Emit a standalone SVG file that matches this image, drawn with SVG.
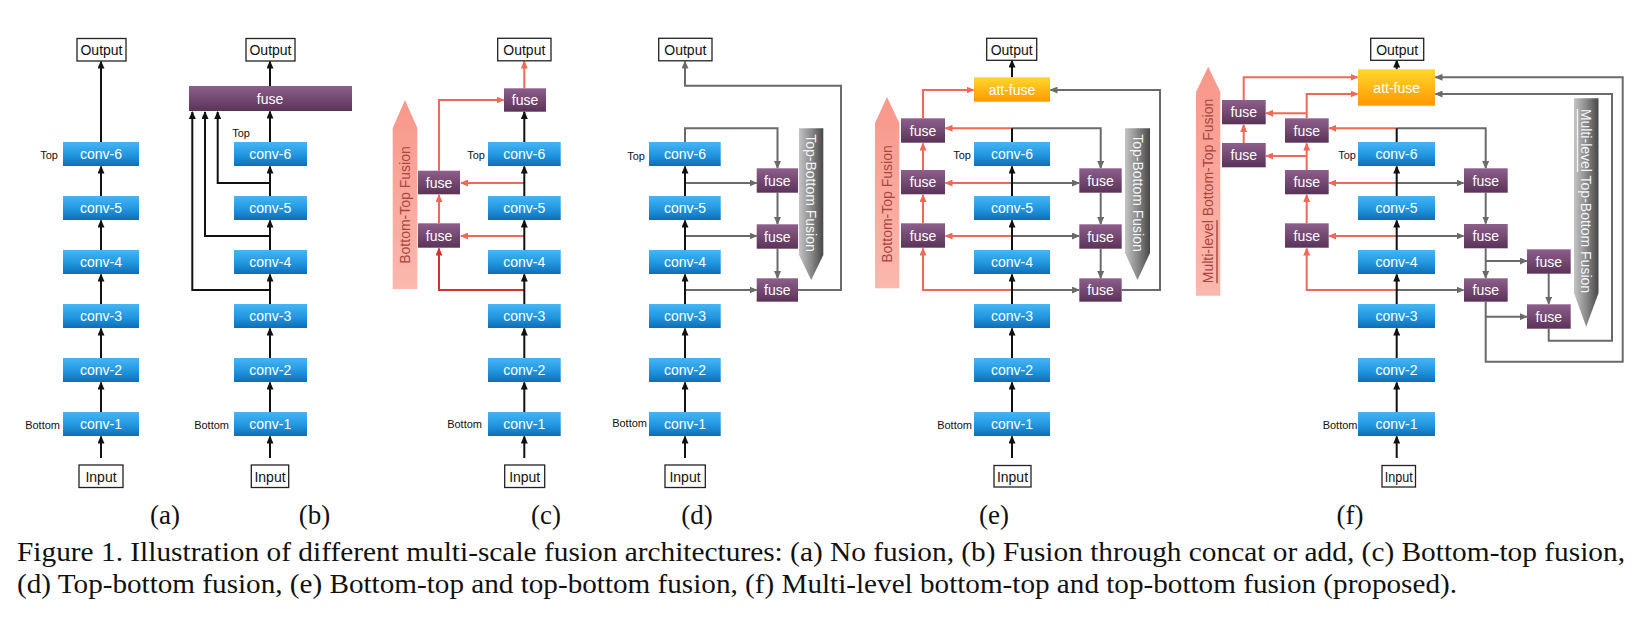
<svg xmlns="http://www.w3.org/2000/svg" width="1642" height="620" viewBox="0 0 1642 620">
<defs>
<linearGradient id="gBlue" x1="0" y1="0" x2="0" y2="1"><stop offset="0" stop-color="#46b5f3"/><stop offset="0.55" stop-color="#2196e0"/><stop offset="1" stop-color="#0f6db5"/></linearGradient>
<linearGradient id="gPurple" x1="0" y1="0" x2="0" y2="1"><stop offset="0" stop-color="#8e5f8c"/><stop offset="1" stop-color="#5a3358"/></linearGradient>
<linearGradient id="gOrange" x1="0" y1="0" x2="0" y2="1"><stop offset="0" stop-color="#ffd82c"/><stop offset="1" stop-color="#ff9800"/></linearGradient>
<linearGradient id="gPink" x1="0" y1="0" x2="0" y2="1"><stop offset="0" stop-color="#f8978a"/><stop offset="1" stop-color="#fbb8ae"/></linearGradient>
<linearGradient id="gGray" x1="0" y1="0" x2="1" y2="0"><stop offset="0" stop-color="#c4c4c4"/><stop offset="0.5" stop-color="#8a8a8a"/><stop offset="1" stop-color="#474747"/></linearGradient>
<marker id="aK" viewBox="0 0 8 7" refX="7" refY="3.5" markerWidth="8" markerHeight="7" markerUnits="userSpaceOnUse" orient="auto"><path d="M0,0 L8,3.5 L0,7 z" fill="#111"/></marker>
<marker id="aR" viewBox="0 0 8 7" refX="7" refY="3.5" markerWidth="8" markerHeight="7" markerUnits="userSpaceOnUse" orient="auto"><path d="M0,0 L8,3.5 L0,7 z" fill="#f26858"/></marker>
<marker id="aD" viewBox="0 0 8 7" refX="7" refY="3.5" markerWidth="8" markerHeight="7" markerUnits="userSpaceOnUse" orient="auto"><path d="M0,0 L8,3.5 L0,7 z" fill="#d9302a"/></marker>
<marker id="aG" viewBox="0 0 8 7" refX="7" refY="3.5" markerWidth="8" markerHeight="7" markerUnits="userSpaceOnUse" orient="auto"><path d="M0,0 L8,3.5 L0,7 z" fill="#6a6a6a"/></marker>
</defs>
<style>
.conv{fill:url(#gBlue)}
.fuse{fill:url(#gPurple)}
.att{fill:url(#gOrange)}
.io{fill:#fff;stroke:#222;stroke-width:1.3}
.t{font-family:"Liberation Sans",Arial,sans-serif;font-size:14px;text-anchor:middle;dominant-baseline:central}
.w{fill:#fff}
.k{fill:#111}
.lb{font-family:"Liberation Sans",Arial,sans-serif;font-size:11px;fill:#111;text-anchor:end;dominant-baseline:central}
.big{font-family:"Liberation Sans",Arial,sans-serif;font-size:14px;text-anchor:middle;dominant-baseline:central}
.pink{fill:url(#gPink)}
.gray{fill:url(#gGray)}
.cap{font-family:"Liberation Serif","Times New Roman",serif;font-size:27px;fill:#111}
.blk{fill:none;stroke:#111;stroke-width:2;marker-end:url(#aK)}
.bln{fill:none;stroke:#111;stroke-width:2}
.red{fill:none;stroke:#f26858;stroke-width:2;marker-end:url(#aR)}
.drd{fill:none;stroke:#d9302a;stroke-width:2;marker-end:url(#aD)}
.gry{fill:none;stroke:#6a6a6a;stroke-width:2;marker-end:url(#aG)}
</style>
<rect width="1642" height="620" fill="#fff"/>

<!-- big fusion arrows -->
<g id="bt-c"><polygon class="pink" points="405,100 417.3,128 417.3,289 392.7,289 392.7,128"/><text class="big" fill="#a9473d" transform="translate(405,205) rotate(-90)">Bottom-Top Fusion</text></g>
<g id="tb-d"><polygon class="gray" points="799,128.3 823.3,128.3 823.3,255 811.2,280 799,255"/><text class="big" fill="#f4f4f4" transform="translate(811,193) rotate(90)">Top-Bottom Fusion</text></g>
<g id="bt-e"><polygon class="pink" points="887,97 899.3,123 899.3,288.3 875,288.3 875,123"/><text class="big" fill="#a9473d" transform="translate(887.3,204) rotate(-90)">Bottom-Top Fusion</text></g>
<g id="tb-e"><polygon class="gray" points="1125,128.3 1150,128.3 1150,253 1137.5,280 1125,253"/><text class="big" fill="#f4f4f4" transform="translate(1137.5,193) rotate(90)">Top-Bottom Fusion</text></g>
<g id="bt-f"><polygon class="pink" points="1208.2,66.7 1220.3,92 1220.3,295.7 1196,295.7 1196,92"/><text class="big" fill="#a9473d" transform="translate(1208.3,191) rotate(-90)"><tspan text-decoration="underline">Multi-level</tspan> Bottom-Top Fusion</text></g>
<g id="tb-f"><polygon class="gray" points="1574,98.3 1598.5,98.3 1598.5,293 1586.2,326.7 1574,293"/><text class="big" fill="#f4f4f4" transform="translate(1586.2,201) rotate(90)"><tspan text-decoration="underline">Multi-level</tspan> Top-Bottom Fusion</text></g>

<!-- connectors -->
<g id="connectors">
<path class="blk" d="M270 183 H217.7 V112"/>
<path class="blk" d="M270 236 H205 V112"/>
<path class="blk" d="M270 290 H192.3 V112"/>
<path class="red" d="M524.3 183 H461"/>
<path class="red" d="M524.3 236 H461"/>
<path class="drd" d="M524.3 290 H439 V248.5"/>
<path class="red" d="M439 223.3 V195"/>
<path class="red" d="M439 170.7 V100 H503.5"/>
<path class="red" d="M524.3 88.3 V61.5"/>
<path class="gry" d="M685 142 V128.3 H777.5 V168"/>
<path class="gry" d="M685 183 H756.5"/>
<path class="gry" d="M685 236 H756.5"/>
<path class="gry" d="M685 290 H756.5"/>
<path class="gry" d="M777.5 192.7 V224"/>
<path class="gry" d="M777.5 248.7 V278"/>
<path class="gry" d="M798 290 H841 V85.7 H685 V61.5"/>
<path class="red" d="M1012 128.3 H945.5"/>
<path class="gry" d="M1012 128.3 H1100.7 V168"/>
<path class="red" d="M1012 183 H945.5"/>
<path class="gry" d="M1012 183 H1079"/>
<path class="red" d="M1012 236 H945.5"/>
<path class="gry" d="M1012 236 H1079"/>
<path class="red" d="M1012 290 H923 V248.5"/>
<path class="gry" d="M1012 290 H1079"/>
<path class="red" d="M923 223.3 V195"/>
<path class="red" d="M923 170 V143.5"/>
<path class="red" d="M923 118.3 V90 H973.5"/>
<path class="gry" d="M1100.7 192.7 V224"/>
<path class="gry" d="M1100.7 248.7 V278"/>
<path class="gry" d="M1121.7 290 H1160 V90 H1050.5"/>
<path class="red" d="M1396.7 128.3 H1329.2"/>
<path class="gry" d="M1396.7 128.3 H1485.7 V168"/>
<path class="red" d="M1396.7 183 H1329.2"/>
<path class="gry" d="M1396.7 183 H1463.5"/>
<path class="red" d="M1396.7 236 H1329.2"/>
<path class="gry" d="M1396.7 236 H1463.5"/>
<path class="red" d="M1396.7 290 H1306.7 V248.5"/>
<path class="gry" d="M1396.7 290 H1463.5"/>
<path class="red" d="M1306.7 223.3 V195"/>
<path class="red" d="M1306.7 170 V143.5"/>
<path class="red" d="M1306.7 118.3 V94 H1357.5"/>
<path class="red" d="M1306.7 113.3 H1266.2"/>
<path class="red" d="M1306.7 156 H1266.2"/>
<path class="red" d="M1243.7 143 V125"/>
<path class="red" d="M1243.7 100 V77.3 H1357.5"/>
<path class="gry" d="M1485.7 192.7 V223.5"/>
<path class="gry" d="M1485.7 248.3 V278"/>
<path class="gry" d="M1485.7 261 H1526.8"/>
<path class="gry" d="M1485.7 316.7 H1526.8"/>
<path class="gry" d="M1485.7 301.7 V361.7 H1622.7 V77.3 H1435.5"/>
<path class="gry" d="M1548.7 273.3 V303.8"/>
<path class="gry" d="M1548.7 328.7 V340.7 H1612 V94 H1435.5"/>
<path class="blk" d="M101 458 V436.5"/><path class="blk" d="M101 412 V382.5"/><path class="blk" d="M101 358 V328.5"/><path class="blk" d="M101 304 V274.5"/><path class="blk" d="M101 250 V220.5"/><path class="blk" d="M101 196 V166.5"/><path class="blk" d="M101 142 V61.5"/>
<path class="blk" d="M270 458 V436.5"/><path class="blk" d="M270 412 V382.5"/><path class="blk" d="M270 358 V328.5"/><path class="blk" d="M270 304 V274.5"/><path class="blk" d="M270 250 V220.5"/><path class="blk" d="M270 196 V166.5"/><path class="blk" d="M270 142 V111.5"/><path class="blk" d="M270 86 V61.5"/>
<path class="blk" d="M524.3 458 V436.5"/><path class="blk" d="M524.3 412 V382.5"/><path class="blk" d="M524.3 358 V328.5"/><path class="blk" d="M524.3 304 V274.5"/><path class="blk" d="M524.3 250 V220.5"/><path class="blk" d="M524.3 196 V166.5"/><path class="blk" d="M524.3 142 V112"/>
<path class="blk" d="M685 458 V436.5"/><path class="blk" d="M685 412 V382.5"/><path class="blk" d="M685 358 V328.5"/><path class="blk" d="M685 304 V274.5"/><path class="blk" d="M685 250 V220.5"/><path class="blk" d="M685 196 V166.5"/>
<path class="blk" d="M1012 458 V436.5"/><path class="blk" d="M1012 412 V382.5"/><path class="blk" d="M1012 358 V328.5"/><path class="blk" d="M1012 304 V274.5"/><path class="blk" d="M1012 250 V220.5"/><path class="blk" d="M1012 196 V166.5"/><path class="bln" d="M1012 142 V128.3"/><path class="blk" d="M1012 77.3 V60.5"/>
<path class="blk" d="M1396.7 458 V436.5"/><path class="blk" d="M1396.7 412 V382.5"/><path class="blk" d="M1396.7 358 V328.5"/><path class="blk" d="M1396.7 304 V274.5"/><path class="blk" d="M1396.7 250 V220.5"/><path class="blk" d="M1396.7 196 V166.5"/><path class="bln" d="M1396.7 142 V128.3"/><path class="blk" d="M1396.7 69.3 V60.5"/>
</g>

<!-- (a) -->
<g id="a-output"><rect class="io" x="77" y="38.5" width="49" height="22.5"/><text class="t k" x="101.5" y="50">Output</text></g>
<g id="a-conv6"><rect class="conv" x="63" y="142" width="76" height="24"/><text class="t w" x="101" y="154">conv-6</text></g>
<g id="a-conv5"><rect class="conv" x="63" y="196" width="76" height="24"/><text class="t w" x="101" y="208">conv-5</text></g>
<g id="a-conv4"><rect class="conv" x="63" y="250" width="76" height="24"/><text class="t w" x="101" y="262">conv-4</text></g>
<g id="a-conv3"><rect class="conv" x="63" y="304" width="76" height="24"/><text class="t w" x="101" y="316">conv-3</text></g>
<g id="a-conv2"><rect class="conv" x="63" y="358" width="76" height="24"/><text class="t w" x="101" y="370">conv-2</text></g>
<g id="a-conv1"><rect class="conv" x="63" y="412" width="76" height="24"/><text class="t w" x="101" y="424">conv-1</text></g>
<g id="a-input"><rect class="io" x="79" y="465" width="44" height="22.5"/><text class="t k" x="101" y="476.5">Input</text></g>
<text class="lb" x="58" y="155">Top</text>
<text class="lb" x="60" y="425">Bottom</text>

<!-- (b) -->
<g id="b-output"><rect class="io" x="246" y="38.5" width="49" height="22.5"/><text class="t k" x="270.5" y="50">Output</text></g>
<g id="b-fuse"><rect class="fuse" x="189" y="86" width="163" height="25"/><text class="t w" x="270" y="98.5">fuse</text></g>
<g id="b-conv6"><rect class="conv" x="234" y="142" width="73" height="24"/><text class="t w" x="270.3" y="154">conv-6</text></g>
<g id="b-conv5"><rect class="conv" x="234" y="196" width="73" height="24"/><text class="t w" x="270.3" y="208">conv-5</text></g>
<g id="b-conv4"><rect class="conv" x="234" y="250" width="73" height="24"/><text class="t w" x="270.3" y="262">conv-4</text></g>
<g id="b-conv3"><rect class="conv" x="234" y="304" width="73" height="24"/><text class="t w" x="270.3" y="316">conv-3</text></g>
<g id="b-conv2"><rect class="conv" x="234" y="358" width="73" height="24"/><text class="t w" x="270.3" y="370">conv-2</text></g>
<g id="b-conv1"><rect class="conv" x="234" y="412" width="73" height="24"/><text class="t w" x="270.3" y="424">conv-1</text></g>
<g id="b-input"><rect class="io" x="251.3" y="465" width="37.4" height="22.5"/><text class="t k" x="270" y="476.5">Input</text></g>
<text class="lb" x="250" y="133">Top</text>
<text class="lb" x="229" y="425">Bottom</text>

<!-- (c) -->
<g id="c-output"><rect class="io" x="497.7" y="38.3" width="53.3" height="22.5"/><text class="t k" x="524.3" y="49.8">Output</text></g>
<g id="c-fuse-top"><rect class="fuse" x="504" y="88.3" width="42" height="23.4"/><text class="t w" x="525" y="100">fuse</text></g>
<g id="c-fuse-2"><rect class="fuse" x="418" y="170.7" width="42" height="23.6"/><text class="t w" x="439" y="182.5">fuse</text></g>
<g id="c-fuse-1"><rect class="fuse" x="418" y="223.3" width="42" height="24.4"/><text class="t w" x="439" y="235.5">fuse</text></g>
<g id="c-conv6"><rect class="conv" x="488" y="142" width="72.7" height="24"/><text class="t w" x="524.3" y="154">conv-6</text></g>
<g id="c-conv5"><rect class="conv" x="488" y="196" width="72.7" height="24"/><text class="t w" x="524.3" y="208">conv-5</text></g>
<g id="c-conv4"><rect class="conv" x="488" y="250" width="72.7" height="24"/><text class="t w" x="524.3" y="262">conv-4</text></g>
<g id="c-conv3"><rect class="conv" x="488" y="304" width="72.7" height="24"/><text class="t w" x="524.3" y="316">conv-3</text></g>
<g id="c-conv2"><rect class="conv" x="488" y="358" width="72.7" height="24"/><text class="t w" x="524.3" y="370">conv-2</text></g>
<g id="c-conv1"><rect class="conv" x="488" y="412" width="72.7" height="24"/><text class="t w" x="524.3" y="424">conv-1</text></g>
<g id="c-input"><rect class="io" x="504.7" y="465" width="40" height="22.5"/><text class="t k" x="524.7" y="476.5">Input</text></g>
<text class="lb" x="485" y="155">Top</text>
<text class="lb" x="482" y="424">Bottom</text>

<!-- (d) -->
<g id="d-output"><rect class="io" x="658.7" y="38.3" width="53.3" height="22.5"/><text class="t k" x="685.3" y="49.8">Output</text></g>
<g id="d-fuse-3"><rect class="fuse" x="756.7" y="168.3" width="41.3" height="24.4"/><text class="t w" x="777.3" y="180.5">fuse</text></g>
<g id="d-fuse-2"><rect class="fuse" x="756.7" y="224.3" width="41.3" height="24.4"/><text class="t w" x="777.3" y="236.5">fuse</text></g>
<g id="d-fuse-1"><rect class="fuse" x="756.7" y="278.3" width="41.3" height="23.4"/><text class="t w" x="777.3" y="290">fuse</text></g>
<g id="d-conv6"><rect class="conv" x="649" y="142" width="71.7" height="24"/><text class="t w" x="685" y="154">conv-6</text></g>
<g id="d-conv5"><rect class="conv" x="649" y="196" width="71.7" height="24"/><text class="t w" x="685" y="208">conv-5</text></g>
<g id="d-conv4"><rect class="conv" x="649" y="250" width="71.7" height="24"/><text class="t w" x="685" y="262">conv-4</text></g>
<g id="d-conv3"><rect class="conv" x="649" y="304" width="71.7" height="24"/><text class="t w" x="685" y="316">conv-3</text></g>
<g id="d-conv2"><rect class="conv" x="649" y="358" width="71.7" height="24"/><text class="t w" x="685" y="370">conv-2</text></g>
<g id="d-conv1"><rect class="conv" x="649" y="412" width="71.7" height="24"/><text class="t w" x="685" y="424">conv-1</text></g>
<g id="d-input"><rect class="io" x="665" y="465" width="40.3" height="22.5"/><text class="t k" x="685" y="476.5">Input</text></g>
<text class="lb" x="645" y="156">Top</text>
<text class="lb" x="647" y="423">Bottom</text>

<!-- (e) -->
<g id="e-output"><rect class="io" x="986.7" y="38.3" width="50" height="22"/><text class="t k" x="1011.7" y="49.5">Output</text></g>
<g id="e-attfuse"><rect class="att" x="974" y="77.3" width="76" height="24.4"/><text class="t w" x="1012" y="89.5">att-fuse</text></g>
<g id="e-bt-fuse-3"><rect class="fuse" x="901" y="118.3" width="44" height="24.4"/><text class="t w" x="923" y="130.5">fuse</text></g>
<g id="e-bt-fuse-2"><rect class="fuse" x="901" y="170" width="44" height="24.3"/><text class="t w" x="923" y="182.2">fuse</text></g>
<g id="e-bt-fuse-1"><rect class="fuse" x="901" y="223.3" width="44" height="24.4"/><text class="t w" x="923" y="235.5">fuse</text></g>
<g id="e-tb-fuse-1"><rect class="fuse" x="1079.3" y="168.3" width="42.4" height="24.4"/><text class="t w" x="1100.5" y="180.5">fuse</text></g>
<g id="e-tb-fuse-2"><rect class="fuse" x="1079.3" y="224.3" width="42.4" height="24.4"/><text class="t w" x="1100.5" y="236.5">fuse</text></g>
<g id="e-tb-fuse-3"><rect class="fuse" x="1079.3" y="278.3" width="42.4" height="23.4"/><text class="t w" x="1100.5" y="290">fuse</text></g>
<g id="e-conv6"><rect class="conv" x="974" y="142" width="76" height="24"/><text class="t w" x="1012" y="154">conv-6</text></g>
<g id="e-conv5"><rect class="conv" x="974" y="196" width="76" height="24"/><text class="t w" x="1012" y="208">conv-5</text></g>
<g id="e-conv4"><rect class="conv" x="974" y="250" width="76" height="24"/><text class="t w" x="1012" y="262">conv-4</text></g>
<g id="e-conv3"><rect class="conv" x="974" y="304" width="76" height="24"/><text class="t w" x="1012" y="316">conv-3</text></g>
<g id="e-conv2"><rect class="conv" x="974" y="358" width="76" height="24"/><text class="t w" x="1012" y="370">conv-2</text></g>
<g id="e-conv1"><rect class="conv" x="974" y="412" width="76" height="24"/><text class="t w" x="1012" y="424">conv-1</text></g>
<g id="e-input"><rect class="io" x="994" y="465.5" width="37" height="21.5"/><text class="t k" x="1012.5" y="476.5" textLength="31" lengthAdjust="spacingAndGlyphs">Input</text></g>
<text class="lb" x="971" y="155">Top</text>
<text class="lb" x="972" y="425">Bottom</text>

<!-- (f) -->
<g id="f-output"><rect class="io" x="1370.7" y="38.3" width="53" height="22"/><text class="t k" x="1397.2" y="49.5">Output</text></g>
<g id="f-attfuse"><rect class="att" x="1358" y="69.3" width="77" height="36.4"/><text class="t w" x="1396.7" y="87.5">att-fuse</text></g>
<g id="f-bt2-fuse-2"><rect class="fuse" x="1222" y="100" width="43.7" height="24.3"/><text class="t w" x="1243.8" y="112.2">fuse</text></g>
<g id="f-bt2-fuse-1"><rect class="fuse" x="1222" y="143" width="43.7" height="24.3"/><text class="t w" x="1243.8" y="155.2">fuse</text></g>
<g id="f-bt-fuse-3"><rect class="fuse" x="1285" y="118.3" width="43.7" height="24.4"/><text class="t w" x="1306.8" y="130.5">fuse</text></g>
<g id="f-bt-fuse-2"><rect class="fuse" x="1285" y="170" width="43.7" height="24.3"/><text class="t w" x="1306.8" y="182.2">fuse</text></g>
<g id="f-bt-fuse-1"><rect class="fuse" x="1285" y="223.3" width="43.7" height="24.4"/><text class="t w" x="1306.8" y="235.5">fuse</text></g>
<g id="f-tb-fuse-1"><rect class="fuse" x="1464" y="168.3" width="43.7" height="24.4"/><text class="t w" x="1485.8" y="180.5">fuse</text></g>
<g id="f-tb-fuse-2"><rect class="fuse" x="1464" y="224" width="43.7" height="24.3"/><text class="t w" x="1485.8" y="236.2">fuse</text></g>
<g id="f-tb-fuse-3"><rect class="fuse" x="1464" y="278.3" width="43.7" height="23.4"/><text class="t w" x="1485.8" y="290">fuse</text></g>
<g id="f-tb2-fuse-1"><rect class="fuse" x="1527" y="249.3" width="43.7" height="24.4"/><text class="t w" x="1548.8" y="261.5">fuse</text></g>
<g id="f-tb2-fuse-2"><rect class="fuse" x="1527" y="304.3" width="43.7" height="24.4"/><text class="t w" x="1548.8" y="316.5">fuse</text></g>
<g id="f-conv6"><rect class="conv" x="1358" y="142" width="77" height="24"/><text class="t w" x="1396.5" y="154">conv-6</text></g>
<g id="f-conv5"><rect class="conv" x="1358" y="196" width="77" height="24"/><text class="t w" x="1396.5" y="208">conv-5</text></g>
<g id="f-conv4"><rect class="conv" x="1358" y="250" width="77" height="24"/><text class="t w" x="1396.5" y="262">conv-4</text></g>
<g id="f-conv3"><rect class="conv" x="1358" y="304" width="77" height="24"/><text class="t w" x="1396.5" y="316">conv-3</text></g>
<g id="f-conv2"><rect class="conv" x="1358" y="358" width="77" height="24"/><text class="t w" x="1396.5" y="370">conv-2</text></g>
<g id="f-conv1"><rect class="conv" x="1358" y="412" width="77" height="24"/><text class="t w" x="1396.5" y="424">conv-1</text></g>
<g id="f-input"><rect class="io" x="1382" y="465.5" width="33.5" height="21.5"/><text class="t k" x="1398.7" y="476.5" textLength="28" lengthAdjust="spacingAndGlyphs">Input</text></g>
<text class="lb" x="1356" y="154.5">Top</text>
<text class="lb" x="1357.5" y="425">Bottom</text>

<!-- sub-figure labels -->
<g class="cap" text-anchor="middle">
<text x="165" y="524">(a)</text>
<text x="314.5" y="524">(b)</text>
<text x="546" y="524">(c)</text>
<text x="697" y="524">(d)</text>
<text x="994" y="524">(e)</text>
<text x="1350" y="524">(f)</text>
</g>
<text class="cap" x="17" y="561" textLength="1608" lengthAdjust="spacingAndGlyphs">Figure 1. Illustration of different multi-scale fusion architectures: (a) No fusion, (b) Fusion through concat or add, (c) Bottom-top fusion,</text>
<text class="cap" x="17" y="593" textLength="1440" lengthAdjust="spacingAndGlyphs">(d) Top-bottom fusion, (e) Bottom-top and top-bottom fusion, (f) Multi-level bottom-top and top-bottom fusion (proposed).</text>
</svg>
